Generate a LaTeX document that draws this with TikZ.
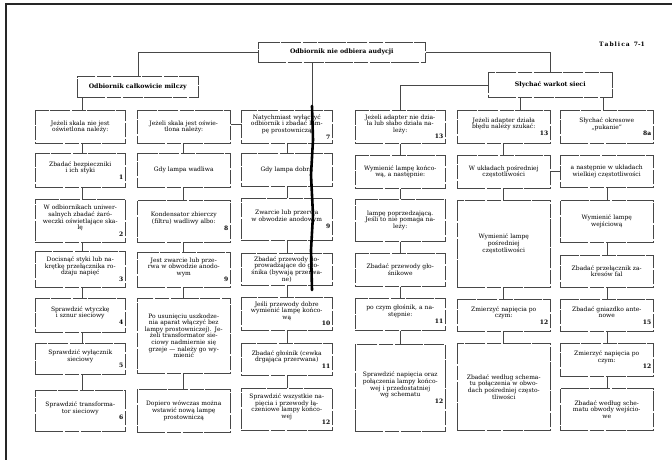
\documentclass[tikz,border=0pt]{standalone}
\usepackage{fontspec}
\setmainfont{DejaVu Serif}
\newcommand\bx[7]{%
  \pgfmathsetmacro\bxw{#4-#2-4}\pgfmathsetmacro\bxh{#5-#3}%
  \node[boxst, text width=\bxw pt, minimum height=\bxh pt] (#1) at (#2,#3)
    {{\centering #6\par}\ifx\relax#7\relax\else{\raggedleft\bfseries #7\par}\fi};}
\begin{document}
\begin{tikzpicture}[x=1pt,y=-1pt,
  boxst/.style={draw=black!72, line width=0.5pt,
    dash pattern=on 28pt off 1.5pt on 14pt off 2pt on 20pt off 1pt,
    inner sep=2pt, anchor=north west, font=\fontsize{6}{6.6}\selectfont},
  ttl/.style={boxst, font=\fontsize{6.2}{7}\selectfont\bfseries, align=center},
  conn/.style={draw=black!72, line width=0.5pt}]
\useasboundingbox (0,0) rectangle (672,460);
\fill[white] (0,0) rectangle (672,460);
\draw[line width=1.4pt, black!85] (6,460) -- (6,4) -- (672,4);
\node[font=\fontsize{6}{7}\selectfont\bfseries] (tab) at (622,44) {T\,a\,b\,l\,i\,c\,a\ \ 7-1};
\node[ttl, minimum width=167pt, minimum height=20pt] (top) at (258,42) {Odbiornik nie odbiera audycji};
\node[ttl, minimum width=121pt, minimum height=21pt] (milczy) at (77,76) {Odbiornik całkowicie milczy};
\node[ttl, minimum width=124pt, minimum height=25pt] (warkot) at (488,72) {Słychać warkot sieci};
% column 1
\bx{c11}{35}{110}{125}{143}{Jeżeli skala nie jest\\oświetlona należy:}{}
\bx{c12}{35}{153}{125}{187}{Zbadać bezpieczniki\\i ich styki}{1}
\bx{c13}{35}{199}{125}{242}{W odbiornikach uniwer-\\salnych zbadać żaró-\\weczki oświetlające ska-\\lę}{2}
\bx{c14}{35}{251}{125}{287}{Docisnąć styki lub na-\\krętkę przełącznika ro-\\dzaju napięć}{3}
\bx{c15}{35}{298}{125}{332}{Sprawdzić wtyczkę\\i sznur sieciowy}{4}
\bx{c16}{35}{343}{125}{374}{Sprawdzić wyłącznik\\sieciowy}{5}
\bx{c17}{35}{390}{125}{431}{Sprawdzić transforma-\\tor sieciowy}{6}
% column 2
\bx{c21}{137}{110}{230}{143}{Jeżeli skala jest oświe-\\tlona należy:}{}
\bx{c22}{137}{153}{230}{187}{Gdy lampa wadliwa}{}
\bx{c23}{137}{200}{230}{242}{Kondensator zbierczy\\(filtru) wadliwy albo:}{8}
\bx{c24}{137}{252}{230}{287}{Jest zwarcie lub prze-\\rwa w obwodzie anodo-\\wym}{9}
\bx{c25}{137}{298}{230}{373}{Po usunięciu uszkodze-\\nia aparat włączyć bez\\lampy prostowniczej). Je-\\żeli transformator sie-\\ciowy nadmiernie się\\grzeje — należy go wy-\\mienić}{}
\bx{c26}{137}{389}{230}{432}{Dopiero wówczas można\\wstawić nową lampę\\prostowniczą}{}
% column 3
\bx{c31}{241}{110}{332}{143}{Natychmiast wyłączyć\\odbiornik i zbadać lam-\\pę prostowniczą}{7}
\bx{c32}{241}{153}{332}{186}{Gdy lampa dobra}{}
\bx{c33}{241}{198}{332}{240}{Zwarcie lub przerwa\\w obwodzie anodowym}{9}
\bx{c34}{241}{253}{332}{285}{Zbadać przewody do-\\prowadzające do gło-\\śnika (bywają przerwa-\\ne)}{}
\bx{c35}{241}{297}{332}{330}{Jeśli przewody dobre\\wymienić lampę końco-\\wą}{10}
\bx{c36}{241}{343}{332}{375}{Zbadać głośnik (cewka\\drgająca przerwana)}{11}
\bx{c37}{241}{388}{332}{430}{Sprawdzić wszystkie na-\\pięcia i przewody łą-\\czeniowe lampy końco-\\wej}{12}
% column 4
\bx{c41}{355}{110}{445}{143}{Jeżeli adapter nie dzia-\\ła lub słabo działa na-\\leży:}{13}
\bx{c42}{355}{155}{445}{188}{Wymienić lampę końco-\\wą, a następnie:}{}
\bx{c43}{355}{199}{445}{241}{lampę poprzedzającą.\\Jeśli to nie pomaga na-\\leży:}{}
\bx{c44}{355}{253}{445}{286}{Zbadać przewody gło-\\śnikowe}{}
\bx{c45}{355}{298}{445}{330}{po czym głośnik, a na-\\stępnie:}{11}
\bx{c46}{355}{344}{445}{431}{Sprawdzić napięcia oraz\\połączenia lampy końco-\\wej i przedostatniej\\wg schematu}{12}
% column 5
\bx{c51}{457}{110}{550}{143}{Jeżeli adapter działa\\błędu należy szukać:}{13}
\bx{c52}{457}{155}{550}{188}{W układach pośredniej\\częstotliwości}{}
\bx{c53}{457}{200}{550}{287}{Wymienić lampę\\pośredniej\\częstotliwości}{}
\bx{c54}{457}{299}{550}{331}{Zmierzyć napięcia po\\czym:}{12}
\bx{c55}{457}{343}{550}{430}{Zbadać według schema-\\tu połączenia w obwo-\\dach pośredniej często-\\tliwości}{}
% column 6
\bx{c61}{560}{110}{653}{143}{Słychać okresowe\\„pukanie”}{8a}
\bx{c62}{560}{155}{653}{187}{a następnie w układach\\wielkiej częstotliwości}{}
\bx{c63}{560}{200}{653}{242}{Wymienić lampę\\wejściową}{}
\bx{c64}{560}{255}{653}{287}{Zbadać przełącznik za-\\kresów fal}{}
\bx{c65}{560}{299}{653}{331}{Zbadać gniazdko ante-\\nowe}{15}
\bx{c66}{560}{343}{653}{376}{Zmierzyć napięcia po\\czym:}{12}
\bx{c67}{560}{388}{653}{430}{Zbadać według sche-\\matu obwody wejścio-\\we}{}
% helper coordinates
\coordinate (v1) at (82,0); \coordinate (v2) at (183,0); \coordinate (v3) at (287,0);
\coordinate (v4) at (400,0); \coordinate (v5) at (503,0); \coordinate (v6) at (607,0);
\coordinate (t3) at (312,0); \coordinate (w5) at (520,0); \coordinate (w6) at (603,0);
\coordinate (h23) at (0,124); \coordinate (h56) at (0,171);
% connectors
\draw[conn] (top.west) -| (milczy.north);
\draw[conn] (top.east) -| (warkot.north);
\draw[conn] (top.south -| t3) -- (c31.north -| t3);
\draw[conn] (warkot.west) -| (c41.north -| v4);
\draw[conn] (warkot.south -| w5) -- (c51.north -| w5);
\draw[conn] (warkot.south -| w6) -- (c61.north -| w6);
\draw[conn] (milczy.south -| v1) -- (c11.north -| v1);
\draw[conn] (c21.east |- h23) -- (c31.west |- h23);
\draw[conn] (c52.east |- h56) -- (c62.west |- h56);
\foreach \a/\b in {c11/c12,c12/c13,c13/c14,c14/c15,c15/c16,c16/c17}
  \draw[conn] (\a.south -| v1) -- (\b.north -| v1);
\foreach \a/\b in {c21/c22,c22/c23,c23/c24,c24/c25,c25/c26}
  \draw[conn] (\a.south -| v2) -- (\b.north -| v2);
\foreach \a/\b in {c31/c32,c32/c33,c33/c34,c34/c35,c35/c36,c36/c37}
  \draw[conn] (\a.south -| v3) -- (\b.north -| v3);
\foreach \a/\b in {c41/c42,c42/c43,c43/c44,c44/c45,c45/c46}
  \draw[conn] (\a.south -| v4) -- (\b.north -| v4);
\foreach \a/\b in {c51/c52,c52/c53,c53/c54,c54/c55}
  \draw[conn] (\a.south -| v5) -- (\b.north -| v5);
\foreach \a/\b in {c62/c63,c63/c64,c64/c65,c65/c66,c66/c67}
  \draw[conn] (\a.south -| v6) -- (\b.north -| v6);
% scan mark through column 3
\draw[line width=2.6pt, line cap=round] (312,106) -- (313,140) -- (311,175) -- (313,215) -- (311,250) -- (312,290);
\end{tikzpicture}
\end{document}
